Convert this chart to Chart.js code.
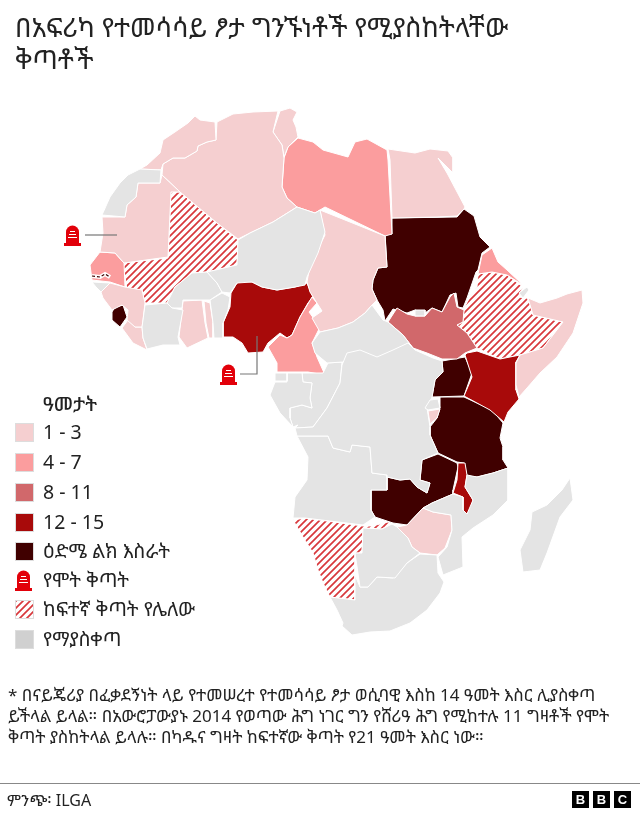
<!DOCTYPE html>
<html>
<head>
<meta charset="utf-8">
<title>Africa</title>
<script src="https://cdn.jsdelivr.net/npm/chart.js@4/dist/chart.umd.min.js"></script>
<style>
    body { margin: 0; background: #fff; color: #222; font-family: "Noto Sans", "Noto Sans Ethiopic", sans-serif; }
    #page { position: relative; width: 640px; height: 815px; overflow: hidden; }
    #map { position: absolute; left: 0; top: 0; }
    #title { position: absolute; left: 15px; top: 11px; width: 620px; font-size: 26.7px; line-height: 32px; margin: 0; font-weight: normal; }
    #legend-title { position: absolute; left: 43px; top: 393px; font-size: 19.5px; line-height: 22px; font-weight: 500; }
    .row { position: absolute; left: 15px; height: 18px; font-size: 19.5px; line-height: 18px; white-space: nowrap; }
    .row i { position: absolute; left: 0; top: 0; width: 17px; height: 17px; border: 1px solid #ddd; box-sizing: content-box; }
    .row span { position: absolute; left: 28px; top: 0; }
    #note { position: absolute; left: 8px; top: 684px; font-size: 17px; line-height: 21px; white-space: nowrap; }
    #rule { position: absolute; left: 0; top: 783px; width: 640px; height: 1px; background: #888; }
    #source { position: absolute; left: 7px; top: 790px; font-size: 16px; line-height: 20px; }
    #bbc { position: absolute; left: 572px; top: 791px; }
    #bbc b { float: left; width: 17px; height: 17px; margin-right: 4px; background: #000; color: #fff; font: bold 13px/17px "Liberation Sans", sans-serif; text-align: center; }
</style>
</head>
<body>
<div id="page">
    <canvas id="map" width="640" height="815"></canvas>
    <h1 id="title">በአፍሪካ የተመሳሳይ ፆታ ግንኙነቶች የሚያስከትላቸው<br>ቅጣቶች</h1>
    <div id="legend-title">ዓመታት</div>
    <div id="legend"></div>
    <div id="note">* በናይጄሪያ በፈቃደኝነት ላይ የተመሠረተ የተመሳሳይ ፆታ ወሲባዊ እስከ 14 ዓመት እስር ሊያስቀጣ<br>ይችላል ይላል። በአውሮፓውያኑ 2014 የወጣው ሕግ ነገር ግን የሸሪዓ ሕግ የሚከተሉ 11 ግዛቶች የሞት<br>ቅጣት ያስከትላል ይላሉ። በካዱና ግዛት ከፍተኛው ቅጣት የ21 ዓመት እስር ነው።</div>
    <div id="rule"></div>
    <div id="source">ምንጭ፡ ILGA</div>
    <div id="bbc"><b>B</b><b>B</b><b>C</b></div>
</div>
<script>
// Country outlines (x, y in the map's own 640 x 815 units)
const morocco = [[195,116],[200,120],[215,122],[216,140],[207,142],[198,146],[197,151],[185,158],[173,158],[163,164],[161,170],[140,169],[147,165],[160,153],[163,140],[175,132],[188,123]];
const westernSahara = [[140,169],[161,170],[160,183],[138,183],[136,197],[127,205],[125,217],[102,215],[110,197],[120,183],[128,175]];
const mauritania = [[160,183],[162,175],[180,192],[171,192],[168,257],[124,263],[115,253],[100,252],[103,233],[102,217],[125,217],[127,205],[136,197],[138,183]];
const algeria = [[217,122],[233,114],[253,112],[278,111],[273,132],[282,145],[284,158],[282,187],[287,198],[297,207],[273,222],[250,233],[238,239],[217,223],[180,192],[162,175],[163,164],[173,158],[185,158],[197,151],[198,146],[207,142],[216,140]];
const tunisia = [[280,111],[290,108],[297,112],[293,120],[296,127],[298,137],[288,147],[284,157],[282,145],[273,132]];
const libya = [[298,138],[313,142],[323,150],[348,157],[355,142],[367,139],[387,150],[388,160],[392,234],[385,236],[325,207],[315,213],[297,207],[287,198],[282,187],[284,158],[288,147]];
const egypt = [[388,149],[415,153],[430,149],[448,151],[453,158],[453,173],[438,158],[447,173],[465,207],[464,209],[457,216],[437,217],[392,218],[390,160]];
const sudan = [[392,218],[457,217],[464,209],[474,216],[480,237],[490,247],[482,253],[478,270],[476,272],[467,298],[463,308],[458,307],[456,293],[450,295],[442,312],[432,308],[425,313],[415,310],[407,313],[393,309],[385,321],[383,310],[377,300],[372,289],[373,280],[378,268],[387,267],[385,233],[392,234]];
const abyei = [[415,310],[425,310],[425,316],[415,316]];
const southSudan = [[397,308],[407,314],[415,316],[425,316],[432,308],[442,312],[450,297],[454,293],[457,307],[464,310],[463,322],[457,325],[467,333],[477,348],[465,353],[457,359],[442,359],[427,353],[413,348],[403,335],[388,322]];
const ethiopia = [[478,274],[492,272],[507,275],[523,287],[518,297],[527,298],[530,303],[533,315],[563,322],[543,348],[520,355],[500,359],[477,348],[467,333],[457,325],[463,322],[464,308],[470,297],[477,287]];
const eritrea = [[492,248],[498,262],[507,270],[523,285],[507,275],[492,272],[478,274],[482,255]];
const djibouti = [[519,293],[527,287],[529,290],[523,298]];
const somalia = [[582,290],[583,303],[573,333],[557,357],[540,373],[527,388],[519,397],[516,385],[516,363],[520,355],[543,348],[563,322],[533,315],[528,298],[540,303],[557,298],[567,294]];
const kenya = [[467,353],[477,351],[500,359],[520,355],[516,362],[516,390],[519,399],[508,412],[504,422],[490,410],[464,396],[472,377],[465,355]];
const uganda = [[442,361],[465,357],[472,373],[464,396],[432,397],[435,380],[443,372]];
const rwanda = [[430,400],[438,399],[440,408],[428,410],[425,408]];
const burundi = [[428,411],[440,409],[437,418],[430,424]];
const tanzania = [[440,397],[464,397],[492,410],[503,423],[500,438],[503,447],[503,460],[508,468],[493,473],[477,477],[467,476],[464,463],[457,462],[438,453],[430,435],[430,427],[437,418],[440,408]];
const malawi = [[458,463],[465,463],[467,475],[465,487],[473,500],[471,508],[467,514],[463,510],[463,497],[453,493],[457,480]];
const zambia = [[387,477],[400,480],[410,479],[417,487],[427,493],[430,483],[420,480],[422,460],[438,454],[457,463],[458,467],[453,490],[453,494],[432,503],[423,508],[407,525],[393,523],[375,517],[371,510],[371,490],[387,490]];
const zimbabwe = [[423,508],[433,512],[451,515],[452,530],[445,548],[437,555],[420,553],[412,547],[408,538],[397,527],[407,525]];
const namibia = [[293,520],[305,518],[363,526],[372,526],[388,522],[392,523],[382,529],[363,528],[362,553],[355,553],[355,600],[330,597],[323,583],[318,570],[313,553],[303,537]];
const angola = [[297,436],[328,436],[333,448],[350,452],[352,445],[370,447],[372,473],[387,475],[387,490],[371,490],[371,510],[375,517],[363,525],[305,518],[293,518],[295,497],[307,480],[308,457]];
const drCongo = [[347,353],[360,350],[377,357],[393,350],[408,343],[415,350],[433,358],[442,361],[443,372],[435,380],[432,397],[427,408],[430,427],[430,435],[438,453],[422,460],[420,480],[430,483],[427,493],[417,487],[410,479],[400,480],[387,477],[387,475],[372,473],[370,447],[352,445],[350,452],[333,448],[328,436],[297,436],[295,428],[313,427],[327,408],[340,383],[342,365]];
const centralAfrica = [[372,305],[383,320],[388,322],[403,335],[413,348],[397,352],[377,358],[353,352],[343,362],[327,363],[315,353],[312,343],[320,332],[338,328],[353,322],[365,313]];
const chad = [[320,210],[385,236],[387,267],[378,268],[373,280],[372,289],[377,300],[372,305],[365,313],[353,322],[338,328],[320,332],[312,318],[322,311],[315,300],[310,292],[307,282],[310,265],[325,235]];
const niger = [[297,207],[315,213],[320,210],[325,232],[318,253],[307,277],[305,285],[295,287],[277,290],[262,287],[252,282],[237,283],[230,293],[222,292],[217,283],[207,272],[237,265],[238,240],[250,233],[273,222]];
const mali = [[171,192],[180,192],[217,223],[238,240],[237,265],[207,272],[192,273],[175,287],[167,303],[145,303],[142,290],[127,290],[123,263],[168,258]];
const senegal = [[100,252],[115,253],[124,263],[125,287],[110,282],[92,280],[90,265]];
const gambia = [[92,276],[100,277],[105,274],[110,277]];
const guineaBissau = [[92,282],[110,283],[101,292],[96,287]];
const guinea = [[110,283],[125,287],[142,290],[145,303],[143,320],[142,327],[135,327],[127,320],[128,310],[122,305],[112,310],[103,298],[101,292]];
const sierraLeone = [[115,307],[123,305],[127,317],[120,327],[112,320],[112,312]];
const liberia = [[128,320],[135,327],[142,327],[143,338],[147,350],[133,343],[122,328]];
const ivoryCoast = [[145,305],[167,303],[172,308],[183,310],[178,337],[180,345],[163,345],[147,349],[143,338],[142,327],[143,320]];
const burkinaFaso = [[175,287],[192,273],[207,272],[217,283],[222,292],[210,300],[183,300],[182,308],[172,308],[167,303]];
const ghana = [[183,301],[202,300],[205,323],[208,338],[187,348],[179,337]];
const togo = [[204,301],[210,303],[213,323],[213,338],[209,338],[206,323]];
const benin = [[210,300],[222,293],[230,297],[228,310],[223,323],[223,338],[214,338],[213,323]];
const nigeria = [[237,283],[243,281],[252,282],[262,287],[277,290],[295,287],[307,283],[313,297],[308,303],[300,317],[292,335],[287,338],[280,333],[268,343],[263,352],[248,353],[242,343],[233,337],[223,337],[223,323],[230,307],[231,293]];
const cameroon = [[312,297],[317,303],[309,312],[320,327],[312,343],[317,357],[325,375],[308,372],[277,372],[277,363],[268,347],[280,335],[287,338],[292,335],[300,317]];
const eqGuinea = [[275,373],[287,373],[287,381],[275,381]];
const gabon = [[270,395],[275,382],[287,382],[287,373],[302,373],[303,382],[312,383],[310,398],[312,408],[302,405],[290,408],[290,418],[293,427],[280,413]];
const congo = [[302,373],[323,373],[328,363],[342,362],[340,383],[327,408],[313,427],[295,428],[298,425],[293,427],[290,418],[290,408],[302,405],[312,408],[310,398],[312,383],[303,382]];
const mozambique = [[508,468],[508,500],[493,515],[473,528],[462,537],[463,567],[443,575],[438,557],[447,547],[452,530],[451,515],[433,512],[423,508],[432,503],[453,494],[463,497],[463,510],[467,514],[473,500],[465,487],[467,475],[477,477],[493,473]];
const botswana = [[363,528],[382,529],[392,524],[397,527],[408,538],[412,547],[420,553],[407,563],[395,578],[377,577],[368,587],[360,587],[355,553],[362,553]];
const southAfrica = [[355,600],[355,575],[360,587],[368,587],[377,577],[393,578],[407,563],[420,554],[437,555],[438,573],[444,582],[440,593],[427,610],[410,623],[390,631],[370,632],[352,635],[342,626],[343,623],[337,610],[330,597]];
const lesotho = [[403,603],[408,598],[417,597],[418,603],[410,610],[403,608]];
const eswatini = [[431,583],[434,578],[439,582],[438,588],[433,588]];
const madagascar = [[570,478],[573,500],[560,517],[547,553],[540,570],[523,572],[520,550],[530,530],[532,512],[547,505],[562,490]];

// Which country sits in which band of the legend
const noLaw = [westernSahara, abyei, djibouti, rwanda, drCongo, angola, centralAfrica, niger, guineaBissau, ivoryCoast, burkinaFaso, benin, eqGuinea, gabon, congo, mozambique, botswana, southAfrica, lesotho, madagascar];
const years1to3 = [morocco, mauritania, algeria, tunisia, egypt, somalia, burundi, zimbabwe, chad, guinea, liberia, ghana, togo];
const years4to7 = [libya, eritrea, senegal, cameroon];
const years8to11 = [southSudan];
const years12to15 = [kenya, malawi, nigeria];
const lifeInPrison = [sudan, uganda, tanzania, zambia, sierraLeone];
const noMaximum = [mali, ethiopia, namibia, eswatini];

// Death penalty markers and the thin lines that tie them to their country
const deathMarkers = [[72.5, 235.5], [228.5, 374.5]];
const markerLines = [[[85, 235], [117, 235]], [[240, 374], [257, 374], [257, 336]]];

const legendLabels = ["1 - 3", "4 - 7", "8 - 11", "12 - 15", "ዕድሜ ልክ እስራት", "የሞት ቅጣት", "ከፍተኛ ቅጣት የሌለው", "የማያስቀጣ"];
const legendTops = [423, 453, 483, 513, 542, 571, 600, 630];

const colors = { y1: "#f5cfd0", y4: "#fb9d9e", y8: "#d1686b", y12: "#a80a0a", life: "#400000", none: "#e4e4e4", legendNone: "#d0d0d0", hatch: "#d8383c", red: "#e2000a" };

function makeHatch() {
    const c = document.createElement("canvas");
    c.width = 7;
    c.height = 7;
    const g = c.getContext("2d");
    g.fillStyle = "#fff";
    g.fillRect(0, 0, 7, 7);
    g.strokeStyle = colors.hatch;
    g.lineWidth = 1.7;
    g.beginPath();
    g.moveTo(-1, 8); g.lineTo(8, -1);
    g.moveTo(-4, 4); g.lineTo(4, -4);
    g.moveTo(3, 11); g.lineTo(11, 3);
    g.stroke();
    return c;
}

function makeHeadstone() {
    const c = document.createElement("canvas");
    c.width = 17;
    c.height = 21;
    const g = c.getContext("2d");
    g.fillStyle = colors.red;
    g.beginPath();
    g.moveTo(2, 18);
    g.lineTo(2, 7);
    g.arc(8.5, 7, 6.5, Math.PI, 0);
    g.lineTo(15, 18);
    g.closePath();
    g.fill();
    g.fillRect(0, 18, 17, 3);
    g.fillStyle = "#fff";
    g.fillRect(6, 6, 5, 1);
    g.fillRect(5, 9, 7, 1);
    g.fillRect(4, 12, 9, 1);
    return c;
}

function toPoints(outline) {
    return outline.map(p => ({ x: p[0], y: p[1] }));
}

function countrySets(list, fill) {
    return list.map(outline => ({
        data: toPoints(outline.concat([outline[0]])),
        showLine: true,
        fill: "shape",
        tension: 0,
        backgroundColor: fill,
        borderColor: "#fff",
        borderWidth: 1,
        borderJoinStyle: "round",
        pointRadius: 0
    }));
}

const hatch = makeHatch();
const hatchPattern = document.getElementById("map").getContext("2d").createPattern(hatch, "repeat");
const headstone = makeHeadstone();

const datasets = [
    ...countrySets(noLaw, colors.none),
    ...countrySets(years1to3, colors.y1),
    ...countrySets(years4to7, colors.y4),
    ...countrySets(years8to11, colors.y8),
    ...countrySets(years12to15, colors.y12),
    ...countrySets(lifeInPrison, colors.life),
    ...countrySets(noMaximum, hatchPattern),
    // Gambia is a tiny dotted strip inside Senegal
    { data: toPoints(gambia), showLine: true, fill: false, borderColor: "#fff", borderWidth: 4, pointRadius: 0, order: -1 },
    { data: toPoints(gambia), showLine: true, fill: false, borderColor: "#400000", borderWidth: 1.2, borderDash: [3, 2], pointRadius: 0, order: -2 },
    ...markerLines.map(line => ({ data: toPoints(line), showLine: true, fill: false, borderColor: "#777", borderWidth: 1.2, pointRadius: 0, order: -3 })),
    { data: toPoints(deathMarkers), showLine: false, pointStyle: headstone, pointRadius: 10, order: -4 }
];

new Chart(document.getElementById("map"), {
    type: "scatter",
    data: { datasets: datasets },
    options: {
        responsive: false,
        animation: false,
        layout: { padding: 0, autoPadding: false },
        plugins: { legend: { display: false }, tooltip: { enabled: false } },
        scales: {
            x: { type: "linear", min: 0, max: 640, display: false },
            y: { type: "linear", min: 0, max: 815, reverse: true, display: false }
        }
    }
});

// Legend rows
const swatches = [colors.y1, colors.y4, colors.y8, colors.y12, colors.life, "icon", "hatch", colors.legendNone];
const legend = document.getElementById("legend");
legendLabels.forEach((label, i) => {
    const row = document.createElement("div");
    row.className = "row";
    row.style.top = legendTops[i] + "px";
    if (swatches[i] === "icon") {
        const img = document.createElement("img");
        img.src = headstone.toDataURL();
        img.style.cssText = "position:absolute;left:0;top:-1px;width:17px;height:21px";
        row.appendChild(img);
    } else {
        const box = document.createElement("i");
        if (swatches[i] === "hatch") {
            box.style.backgroundImage = "url(" + hatch.toDataURL() + ")";
        } else {
            box.style.background = swatches[i];
        }
        row.appendChild(box);
    }
    const text = document.createElement("span");
    text.textContent = label;
    row.appendChild(text);
    legend.appendChild(row);
});
</script>
</body>
</html>
